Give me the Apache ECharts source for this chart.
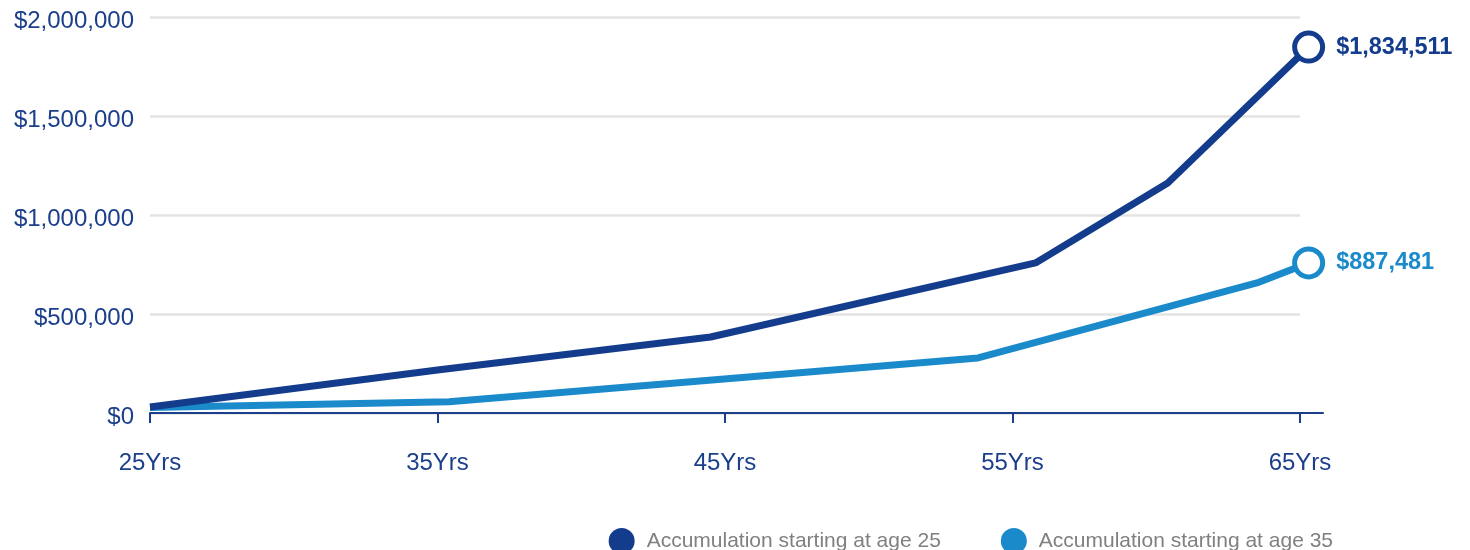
<!DOCTYPE html>
<html>
<head>
<meta charset="utf-8">
<script src="https://cdn.jsdelivr.net/npm/echarts@6/dist/echarts.min.js"></script>
<style>
  html, body { margin: 0; padding: 0; background: #fff; }
  #chart { width: 1470px; height: 550px; }
</style>
</head>
<body>
<div id="chart"></div>
<script>
// series names
var seriesNames = ['Accumulation starting at age 25', 'Accumulation starting at age 35']
// [age, value] points
var start25Ages = [25, 35, 44.5, 55.8, 60.4, 65.3]
var start25Values = [30000, 217000, 384000, 758000, 1162000, 1848000]
var start35Ages = [25, 35.4, 53.8, 63.5, 65.3]
var start35Values = [28000, 57000, 278000, 657000, 758000]
// end labels as printed
var endLabels = ['$1,834,511', '$887,481']
var colors = ['#143c8c', '#1b8acb']
var textColor = '#1b3f8b'

function buildData (ages, values, label, color) {
  var out = []
  for (var i = 0; i < ages.length; i++) {
    var item = { value: [ages[i], values[i]] }
    if (i === ages.length - 1) {
      item.symbol = 'circle'
      item.symbolSize = 28
      item.itemStyle = { color: '#fff', borderColor: color, borderWidth: 5 }
      item.label = {
        show: true,
        position: 'right',
        distance: 11,
        formatter: label,
        color: color,
        fontFamily: 'Liberation Sans',
        fontWeight: 'bold',
        fontSize: 23.5
      }
    }
    out.push(item)
  }
  return out
}

var chart = echarts.init(document.getElementById('chart'))
var option = {
  animation: false,
  legend: {
    data: seriesNames,
    right: 132,
    top: 523,
    icon: 'circle',
    itemWidth: 26,
    itemHeight: 26,
    itemGap: 60,
    textStyle: {
      color: '#808080',
      fontFamily: 'Liberation Sans',
      fontSize: 21,
      padding: [0, 0, 0, 7]
    }
  },
  grid: [
    { left: 150, right: 170, top: 17, bottom: 137 },
    { left: 150, right: 147, top: 17, bottom: 137 }
  ],
  xAxis: [
    {
      type: 'value',
      min: 25,
      max: 65,
      interval: 10,
      axisLine: { show: false },
      axisTick: { show: true, length: 10, lineStyle: { color: textColor, width: 2 } },
      splitLine: { show: false },
      axisLabel: {
        margin: 38,
        color: textColor,
        fontFamily: 'Liberation Sans',
        fontSize: 24,
        formatter: function (v) { return v + 'Yrs' }
      }
    },
    {
      type: 'value',
      gridIndex: 1,
      min: 0,
      max: 1,
      axisLine: { show: true, lineStyle: { color: textColor, width: 2 } },
      axisTick: { show: false },
      axisLabel: { show: false },
      splitLine: { show: false }
    }
  ],
  yAxis: [
    {
      type: 'value',
      min: 0,
      max: 2000000,
      interval: 500000,
      axisLine: { show: false },
      axisTick: { show: false },
      splitLine: { lineStyle: { color: '#e3e3e3', width: 2.5 } },
      axisLabel: {
        margin: 16,
        verticalAlign: 'top',
        lineHeight: 9,
        color: textColor,
        fontFamily: 'Liberation Sans',
        fontSize: 24,
        formatter: function (v) { return '$' + v.toLocaleString('en-US') }
      }
    },
    {
      type: 'value',
      gridIndex: 1,
      show: false
    }
  ],
  series: [
    {
      name: seriesNames[1],
      type: 'line',
      color: colors[1],
      clip: false,
      symbol: 'none',
      data: buildData(start35Ages, start35Values, endLabels[1], colors[1]),
      lineStyle: { width: 7, color: colors[1] },
      z: 2
    },
    {
      name: seriesNames[0],
      type: 'line',
      color: colors[0],
      clip: false,
      symbol: 'none',
      data: buildData(start25Ages, start25Values, endLabels[0], colors[0]),
      lineStyle: { width: 7, color: colors[0] },
      z: 3
    }
  ]
}
chart.setOption(option)
</script>
</body>
</html>
